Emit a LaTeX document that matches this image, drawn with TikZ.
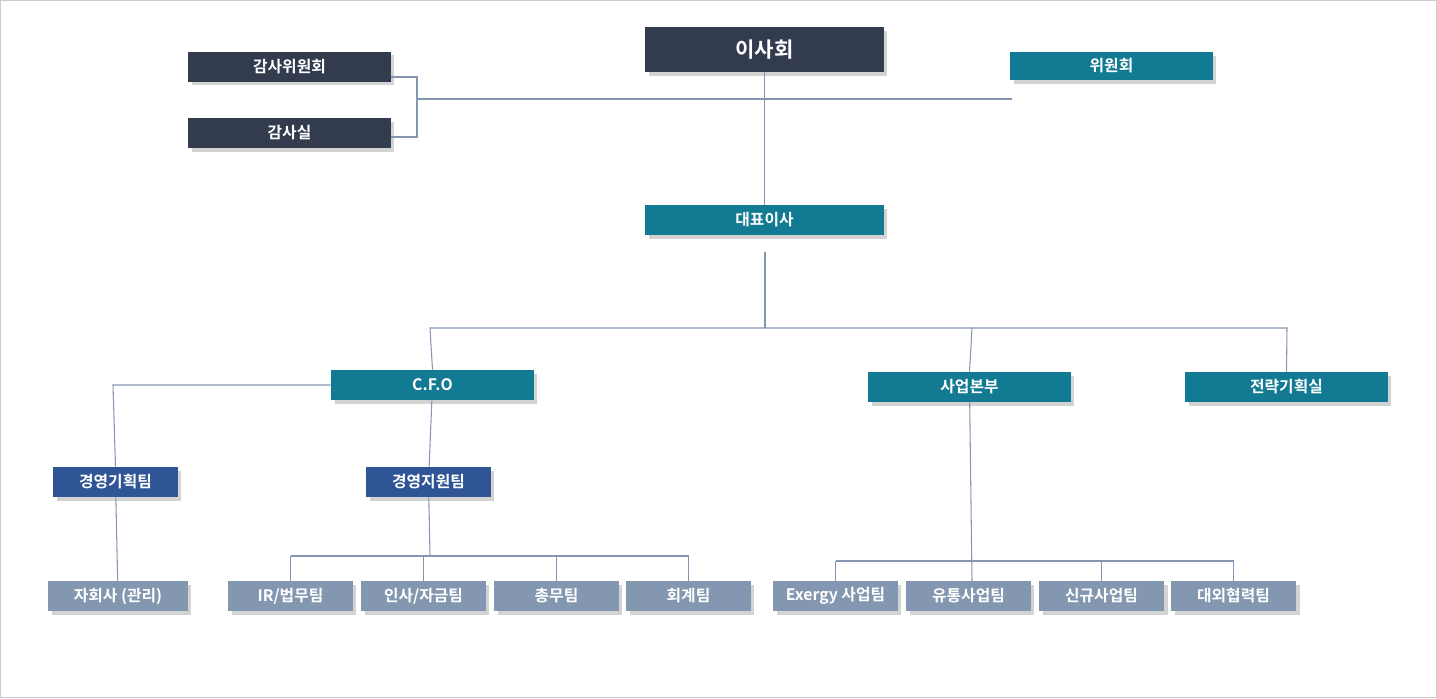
\documentclass[tikz,border=0pt]{standalone}
\usepackage{fontspec}
\setmainfont{Noto Sans CJK KR}[BoldFont={* Bold}]
\usetikzlibrary{positioning,shadows}
\definecolor{darkbox}{HTML}{323C4E}
\definecolor{tealbox}{HTML}{127A93}
\definecolor{bluebox}{HTML}{2F5597}
\definecolor{graybox}{HTML}{8497B0}
\definecolor{linegray}{HTML}{8496B0}
\tikzset{orgbox/.style={draw=none, text=white, font=\bfseries\small, inner sep=0pt, minimum height=0.6cm, drop shadow={shadow xshift=0.07cm, shadow yshift=-0.07cm, opacity=0.35}}}
\tikzset{widebox/.style={orgbox, minimum width=4.06cm}}
\tikzset{teambox/.style={orgbox, minimum width=2.5cm}}
\tikzset{link/.style={draw=linegray, line width=0.6pt}}
\begin{document}
\begin{tikzpicture}[x=0.02cm, y=-0.02cm]
  \useasboundingbox (0,0) rectangle (1437,698);
  \draw[gray!40] (0.5,0.5) rectangle (1436.5,697.5);
  % top level
  \node[widebox, fill=darkbox, minimum width=4.78cm, minimum height=0.9cm, font=\bfseries\large] (board) at (764.5,49.5) {이사회};
  \node[widebox, fill=darkbox] (audcom) at (289.5,66.5) {감사위원회};
  \node[widebox, fill=darkbox] (audit) at (289.5,133) {감사실};
  \node[widebox, fill=tealbox, minimum height=0.56cm] (comm) at (1111.5,66) {위원회};
  \node[widebox, fill=tealbox, minimum width=4.78cm] (ceo) at (764.5,220) {대표이사};
  % second level
  \node[widebox, fill=tealbox] (cfo) at (432.5,385) {C.F.O};
  \node[widebox, fill=tealbox] (biz) at (969.5,387) {사업본부};
  \node[widebox, fill=tealbox] (strat) at (1286.5,387) {전략기획실};
  \node[teambox, fill=bluebox] (plan) at (115.5,482) {경영기획팀};
  \node[teambox, fill=bluebox] (supp) at (428.5,482) {경영지원팀};
  % teams
  \node[teambox, fill=graybox, minimum width=2.8cm] (sub) at (118,596) {자회사 (관리)};
  \node[teambox, fill=graybox] (ir) at (290.5,596) {IR/법무팀};
  \node[teambox, fill=graybox] (hr) at (423.5,596) {인사/자금팀};
  \node[teambox, fill=graybox] (ga) at (556.5,596) {총무팀};
  \node[teambox, fill=graybox] (acc) at (688.5,596) {회계팀};
  \node[teambox, fill=graybox] (exg) at (835.5,596) {Exergy 사업팀};
  \node[teambox, fill=graybox] (dist) at (968.5,596) {유통사업팀};
  \node[teambox, fill=graybox] (new) at (1101.5,596) {신규사업팀};
  \node[teambox, fill=graybox] (ext) at (1233.5,596) {대외협력팀};
  % connectors
  \coordinate (bj) at (417,99);
  \draw[link] (audcom.east |- 0,77) -| (bj) |- (audit.east |- 0,137);
  \draw[link] (bj) -- (1012,99);
  \draw[link] (board) -- (ceo);
  \coordinate (ceoj) at (765,328);
  \draw[link] (765,252) -- (ceoj);
  \draw[link] (cfo.north) -- (430,328) -- (1287,328) -- (strat.north);
  \draw[link] (972,328) -- (biz.north);
  \draw[link] (cfo.west) -- (113,385) -- (plan.north);
  \draw[link] (plan) -- (sub);
  \draw[link] (cfo) -- (supp);
  \coordinate (sj) at (430,556);
  \draw[link] (supp) -- (sj);
  \draw[link] (ir.north |- sj) -- (acc.north |- sj);
  \foreach \t in {ir,hr,ga,acc} \draw[link] (\t.north |- sj) -- (\t.north);
  \coordinate (bzj) at (972,561);
  \draw[link] (biz) -- (972,581);
  \draw[link] (exg.north |- bzj) -- (ext.north |- bzj);
  \foreach \t in {exg,new,ext} \draw[link] (\t.north |- bzj) -- (\t.north);
\end{tikzpicture}
\end{document}
